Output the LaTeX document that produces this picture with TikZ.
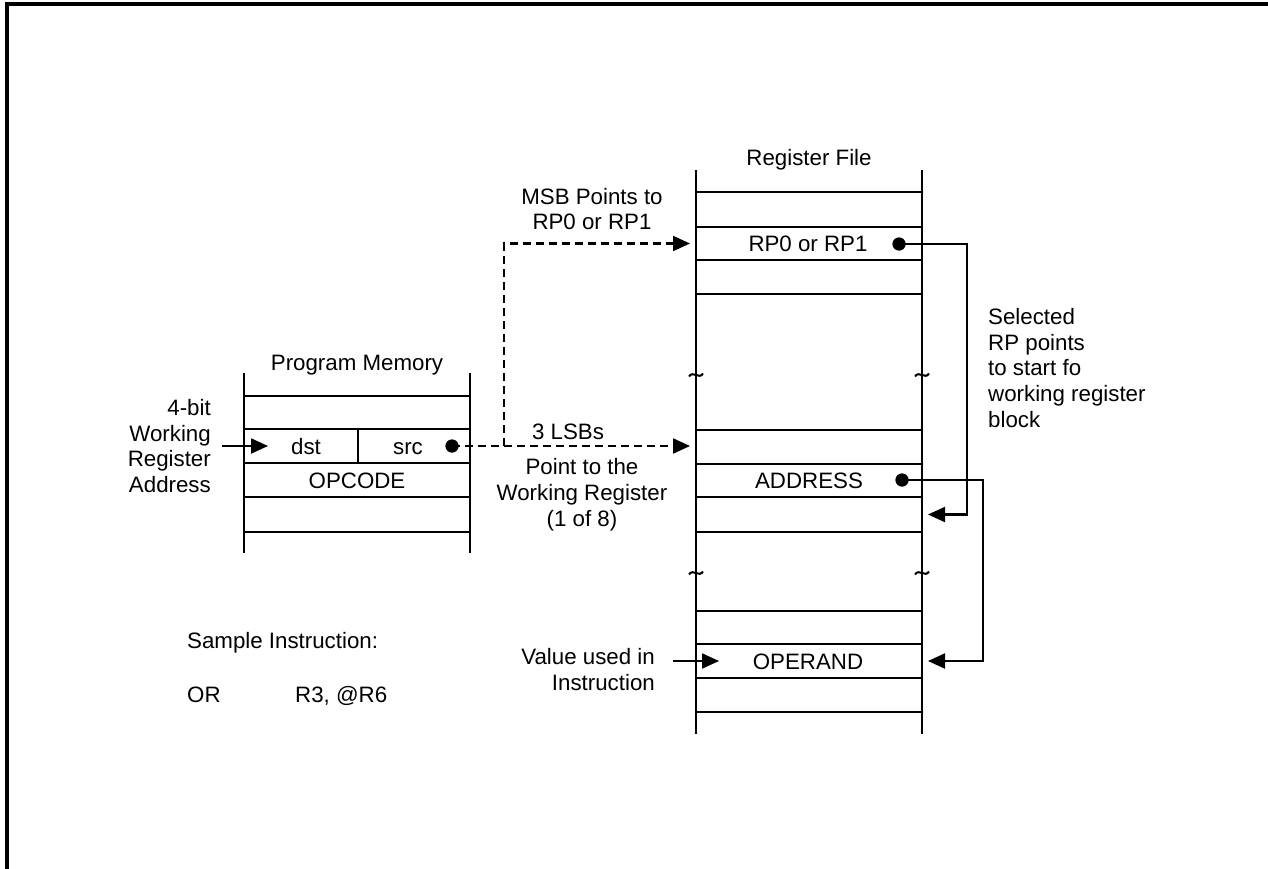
\documentclass[tikz,border=0pt]{standalone}
\usepackage{fontspec}
\setmainfont{Liberation Sans}
\usetikzlibrary{arrows.meta}
\begin{document}
\begin{tikzpicture}[x=1pt,y=-1pt,
  lbl/.style={inner sep=0pt,font=\fontsize{22.3}{25.8}\selectfont},
  one/.style={lbl,text height=16pt,text depth=0pt},
  grid/.style={line width=2.1pt},
  arr/.style={line width=2.1pt,-{Triangle[length=17pt,width=15pt]}},
  dashline/.style={line width=2.1pt,dash pattern=on 8pt off 5pt,-{Triangle[length=17pt,width=15pt]}},
  dot/.style={circle,fill=black,inner sep=0pt,minimum size=13pt},
  tld/.style={line width=2pt}]
\useasboundingbox (0,0) rectangle (1268,869);
% frame
\draw[line width=4pt] (7,869) -- (7,4) -- (1268,4);

% ---- Program memory ----
\draw[grid] (244,373) -- (244,553) (470,373) -- (470,553);
\foreach \y in {396,429,463,497,532} \draw[grid] (244,\y) -- (470,\y);
\draw[grid] (358,429) -- (358,463);
\node[one] (pmtitle) at (357,362) {Program Memory};
\node[one] (dst) at (306,446) {dst};
\node[one] (src) at (408,446) {src};
\node[one] (opc) at (357,480) {OPCODE};

% ---- Register file ----
\draw[grid] (696,170) -- (696,734) (922,170) -- (922,734);
\foreach \y in {192,227,260,294,430,464,497,532,611,644,678,712} \draw[grid] (696,\y) -- (922,\y);
\foreach \x in {696,922} \foreach \y in {375,573}
  \draw[tld] (\x-7,\y+1.5) .. controls (\x-3,\y-5) and (\x+3,\y+5) .. (\x+7,\y-1.5);
\node[one] (rftitle) at (809,158) {Register File};
\node[one] (rp) at (808,243.5) {RP0 or RP1};
\node[one] (adr) at (809,480.5) {ADDRESS};
\node[one] (opnd) at (808,661) {OPERAND};

% ---- labels ----
\node[lbl,anchor=east,align=right] (wra) at (211,446) {4-bit\\Working\\Register\\Address};
\node[lbl,align=center] (msb) at (592,209) {MSB Points to\\RP0 or RP1};
\node[one] (lsb) at (568,431) {3 LSBs};
\node[lbl,align=center] (pwr) at (582,495) {Point to the\\Working Register\\(1 of 8)};
\node[lbl,anchor=west,align=left] (sel) at (988,368) {Selected\\RP points\\to start fo\\working register\\block};
\node[lbl,anchor=north east,align=right] (val) at (655,648) {Value used in\\Instruction};
\node[one,anchor=west] (samp) at (187,640) {Sample Instruction:};
\node[one,anchor=west] (orop) at (187,694) {OR};
\node[one,anchor=west] (orarg) at (295,694) {R3, @R6};

% ---- connector points ----
\coordinate (wrs) at (222,446);
\coordinate (dstin) at (268,446);
\coordinate (br) at (504,446);
\coordinate (lsbin) at (690,446);
\coordinate (rpin) at (690,243.5);
\coordinate (blkin) at (928,514.5);
\coordinate (c1) at (967,514.5);
\coordinate (c2) at (983,661);
\coordinate (opinR) at (928,661);
\coordinate (vals) at (673,661);
\coordinate (opin) at (719,661);

\node[dot] (srcdot) at (452,446) {};
\node[dot] (rpdot) at (899,244) {};
\node[dot] (adrdot) at (902,480) {};

% ---- connectors ----
\draw[arr] (wrs) -- (dstin);
\draw[dashline] (srcdot.center) -- (lsbin);
\draw[dashline] (br) |- (rpin);
\draw[arr] (rpdot.center) -| (c1) -- (blkin);
\draw[arr] (adrdot.center) -| (c2) -- (opinR);
\draw[arr] (vals) -- (opin);
\node[dot] at (srcdot) {};
\node[dot] at (rpdot) {};
\node[dot] at (adrdot) {};
\end{tikzpicture}
\end{document}
